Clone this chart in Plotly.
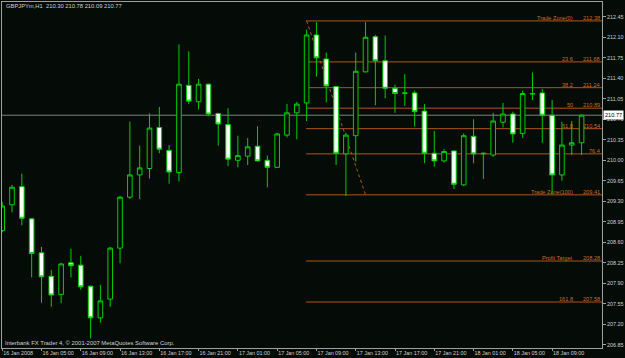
import plotly.graph_objects as go

# ---- data ----
bar_index = list(range(60))  # hourly bars, 16 Jan 01:00 .. 18 Jan 12:00
open_ = [208.80, 209.24, 209.55, 209.00, 208.42, 208.02, 207.71, 208.25, 208.21, 207.85,
         207.31, 207.63, 208.50, 209.37, 209.75, 209.86, 210.56, 210.17, 209.79, 211.28,
         211.00, 211.30, 210.80, 210.61, 210.00, 210.07, 210.24, 210.00, 209.88, 210.43,
         210.81, 210.98, 212.14, 211.73, 211.26, 210.11, 210.42, 211.51, 212.11, 211.70,
         211.23, 211.14, 211.15, 210.84, 210.12, 209.99, 210.16, 209.58, 210.41, 210.11,
         210.09, 210.65, 210.79, 210.46, 211.13, 211.15, 210.77, 209.75, 210.26, 210.30]
high = [209.29, 209.58, 209.77, 209.01, 208.52, 208.13, 208.25, 208.49, 208.37, 207.86,
        207.87, 208.52, 209.39, 210.66, 210.25, 210.80, 210.91, 210.26, 211.98, 211.86,
        211.39, 211.31, 210.81, 210.89, 210.42, 210.38, 210.58, 210.08, 210.47, 210.96,
        211.00, 212.23, 212.36, 211.84, 211.27, 210.47, 211.84, 212.36, 212.14, 212.13,
        211.29, 211.47, 211.19, 210.96, 210.50, 210.19, 210.17, 210.46, 210.70, 210.13,
        210.81, 210.98, 210.83, 211.19, 211.50, 211.22, 211.03, 210.66, 210.67, 210.78]
low = [208.77, 209.11, 208.89, 208.00, 207.57, 207.50, 207.56, 208.00, 207.79, 206.96,
       207.23, 207.50, 208.24, 209.34, 209.34, 209.69, 210.12, 209.60, 209.64, 210.96,
       210.87, 210.76, 210.25, 209.90, 209.88, 209.92, 209.98, 209.54, 209.87, 210.39,
       210.36, 210.67, 211.43, 210.99, 209.92, 209.39, 209.98, 211.50, 210.94, 211.06,
       210.81, 210.93, 210.58, 209.95, 209.89, 209.96, 209.51, 209.56, 209.95, 209.68,
       210.06, 210.56, 210.30, 210.38, 211.03, 210.30, 209.42, 209.65, 210.09, 210.09]
close = [209.22, 209.54, 209.01, 208.41, 208.01, 207.70, 208.23, 208.20, 207.84, 207.31,
         207.60, 208.50, 209.37, 209.75, 209.87, 210.55, 210.19, 209.80, 211.30, 211.01,
         211.30, 210.79, 210.62, 210.02, 210.08, 210.23, 209.99, 209.88, 210.45, 210.81,
         210.96, 212.14, 211.75, 211.27, 210.12, 210.43, 211.52, 212.10, 211.70, 211.23,
         211.14, 211.15, 210.83, 210.12, 209.99, 210.15, 209.59, 210.42, 210.11, 210.12,
         210.67, 210.79, 210.45, 211.14, 211.14, 210.77, 209.75, 210.26, 210.30, 210.77]

time_tick_bars = [0, 4, 8, 12, 16, 20, 24, 28, 32, 36, 40, 44, 48, 52, 56]
time_tick_labels = ["16 Jan 2008", "16 Jan 05:00", "16 Jan 09:00", "16 Jan 13:00",
                    "16 Jan 17:00", "16 Jan 21:00", "17 Jan 01:00", "17 Jan 05:00",
                    "17 Jan 09:00", "17 Jan 13:00", "17 Jan 17:00", "17 Jan 21:00",
                    "18 Jan 01:00", "18 Jan 05:00", "18 Jan 09:00"]
price_ticks = [212.45, 212.10, 211.75, 211.40, 211.05, 210.70, 210.35, 210.00, 209.65,
               209.30, 208.95, 208.60, 208.25, 207.90, 207.55, 207.20, 206.85]

fib_names = ["Trade Zone(0)", "23.6", "38.2", "50", "61.8", "76.4",
             "Trade Zone(100)", "Profit Target", "161.8"]
fib_prices = [212.38, 211.68, 211.24, 210.89, 210.54, 210.11, 209.41, 208.28, 207.58]
fib_price_text = ["212.38", "211.68", "211.24", "210.89", "210.54", "",
                  "209.41", "208.28", "207.58"]
fib_start_bar = 31
fib_end_bar = 37
bid_price = 210.77
title_text = "GBPJPYm,H1  210.30 210.78 210.09 210.77"
copyright_text = "Interbank FX Trader 4, \u00a9 2001-2007 MetaQuotes Software Corp."

# ---- styles ----
BG = "#050B07"
GREEN = "#00D000"
FIB_LINE = "#B0561A"
FIB_TEXT = "#D2691E"
AXIS = "#A0A0A0"
TXT = "#D0D0D0"
FONT = "Liberation Sans"

fig = go.Figure()
fig.add_trace(go.Candlestick(
    x=bar_index, open=open_, high=high, low=low, close=close,
    increasing=dict(line=dict(color=GREEN, width=1), fillcolor=BG),
    decreasing=dict(line=dict(color=GREEN, width=1), fillcolor="#FFFFFF"),
    whiskerwidth=0, showlegend=False, hoverinfo="skip",
))

shapes = []
# bid line
shapes.append(dict(type="line", xref="paper", x0=0, x1=1, yref="y", y0=bid_price, y1=bid_price,
                   line=dict(color="#808080", width=1), layer="below"))
# fibo levels
for p in fib_prices:
    shapes.append(dict(type="line", xref="x", x0=fib_start_bar - 0.05, x1=61.2, yref="y",
                       y0=p, y1=p, line=dict(color=FIB_LINE, width=1), layer="below"))
# fibo base trendline
shapes.append(dict(type="line", xref="x", x0=fib_start_bar, x1=fib_end_bar, yref="y",
                   y0=fib_prices[0], y1=fib_prices[6],
                   line=dict(color=FIB_LINE, width=1, dash="dot"), layer="below"))

annotations = []
fib_font = dict(family=FONT, size=5.6, color=FIB_TEXT)
for name, p, pt in zip(fib_names, fib_prices, fib_price_text):
    if pt:
        annotations.append(dict(text=name, xref="paper", x=(574 - 2) / 600, xanchor="right",
                                yref="y", y=p, yanchor="bottom", yshift=-1, showarrow=False,
                                font=fib_font, borderpad=0))
        annotations.append(dict(text=pt, xref="paper", x=(601 - 2) / 600, xanchor="right",
                                yref="y", y=p, yanchor="bottom", yshift=-1, showarrow=False,
                                font=fib_font, borderpad=0))
    else:
        annotations.append(dict(text=name, xref="paper", x=(601 - 2) / 600, xanchor="right",
                                yref="y", y=p, yanchor="bottom", yshift=-1, showarrow=False,
                                font=fib_font, borderpad=0))

annotations.append(dict(text=title_text, xref="paper", x=0.004, xanchor="left",
                        yref="paper", y=(348 - 6.5) / 346, yanchor="middle", showarrow=False,
                        font=dict(family=FONT, size=5.8, color=TXT)))
annotations.append(dict(text=copyright_text, xref="paper", x=0.002, xanchor="left",
                        yref="paper", y=(348 - 342.5) / 346, yanchor="middle", showarrow=False,
                        font=dict(family=FONT, size=5.9, color=TXT)))
annotations.append(dict(text="%.2f" % bid_price, xref="paper", x=1.0, xanchor="left", xshift=1,
                        yref="y", y=bid_price, yanchor="middle", showarrow=False,
                        bgcolor="#FFFFFF", borderpad=1,
                        font=dict(family=FONT, size=5.6, color="#000000")))

fig.update_layout(
    width=625, height=358,
    margin=dict(l=2, r=23, t=2, b=10, pad=0, autoexpand=False),
    paper_bgcolor=BG, plot_bgcolor=BG,
    shapes=shapes, annotations=annotations,
    boxgap=0.33,
    xaxis=dict(range=[-0.02, 61.08], rangeslider=dict(visible=False), showgrid=False,
               zeroline=False, showline=True, linecolor=AXIS, linewidth=1, mirror=True,
               tickmode="array", tickvals=time_tick_bars, ticktext=time_tick_labels,
               ticks="outside", ticklen=2, tickcolor=AXIS, ticklabelposition="outside right",
               tickangle=0, automargin=False,
               tickfont=dict(family=FONT, size=5.4, color=TXT), fixedrange=True),
    yaxis=dict(range=[206.795, 212.703], side="right", showgrid=False, zeroline=False,
               showline=True, linecolor=AXIS, linewidth=1, mirror=True,
               tickmode="array", tickvals=price_ticks,
               ticktext=["%.2f" % v for v in price_ticks],
               ticks="outside", ticklen=3, tickcolor=AXIS, automargin=False,
               tickfont=dict(family=FONT, size=5.4, color=TXT), fixedrange=True),
)

fig.write_html("out.html")
